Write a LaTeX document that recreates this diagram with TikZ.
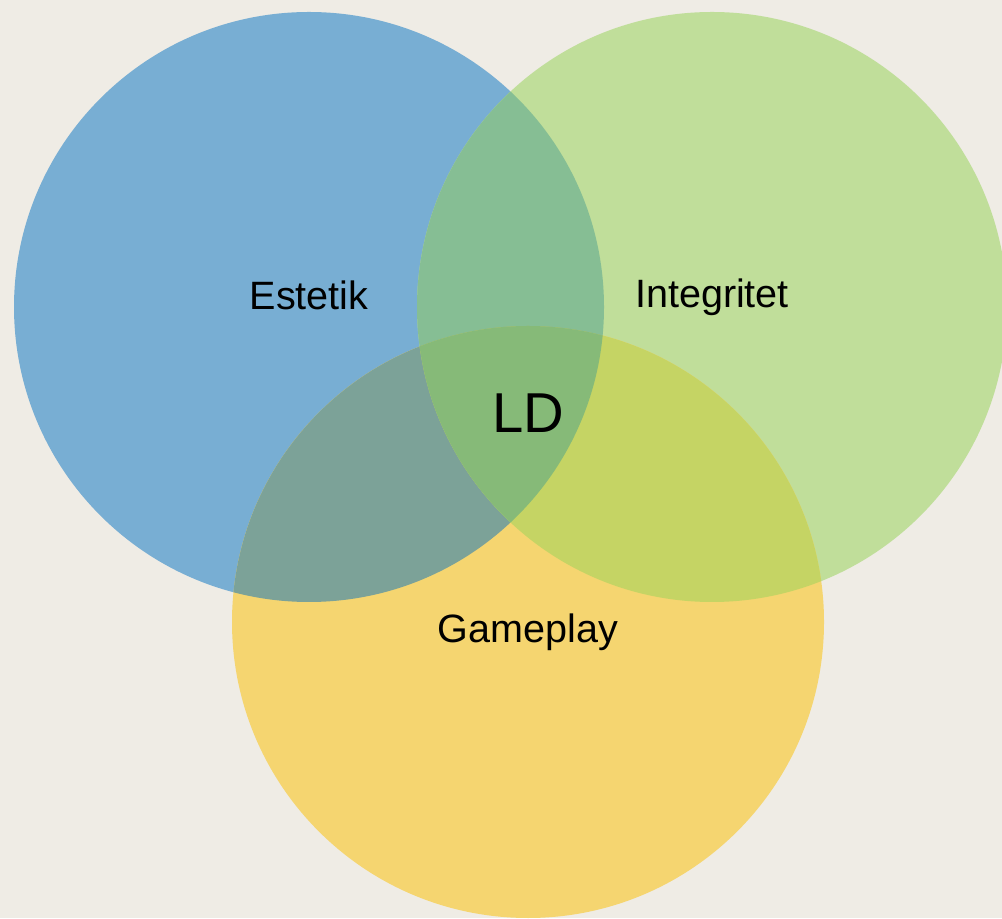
\documentclass[tikz,border=0pt]{standalone}
\usepackage{fontspec}
\setmainfont{Liberation Sans}
\definecolor{paper}{HTML}{EFECE5}
\definecolor{blueC}{HTML}{78AED3}
\definecolor{greenC}{HTML}{C0DE9A}
\definecolor{yellowC}{HTML}{F5D570}
\definecolor{blueGreen}{HTML}{86BE94}
\definecolor{blueYellow}{HTML}{7CA298}
\definecolor{greenYellow}{HTML}{C5D464}
\definecolor{allThree}{HTML}{86BA78}
\tikzstyle{lbl} = [text=black, font=\fontsize{22.5}{27}\selectfont]
\tikzstyle{core} = [text=black, font=\fontsize{32}{38}\selectfont]

\begin{document}
\begin{tikzpicture}

% Background
\fill [paper] (0,0) rectangle (20.04,18.36);
\useasboundingbox (0,0) rectangle (20.04,18.36);

% Centres
\coordinate (B) at (6.18,12.22);
\coordinate (G) at (14.24,12.22);
\coordinate (Y) at (10.56,5.92);

% Circles
\fill [blueC] (B) circle (5.9);
\fill [greenC] (G) circle (5.9);
\fill [yellowC] (Y) circle (5.92);

% Overlaps
\begin{scope}
\clip (B) circle (5.9);
\fill [blueGreen] (G) circle (5.9);
\fill [blueYellow] (Y) circle (5.92);
\end{scope}
\begin{scope}
\clip (G) circle (5.9);
\fill [greenYellow] (Y) circle (5.92);
\clip (B) circle (5.9);
\fill [allThree] (Y) circle (5.92);
\end{scope}

% Labels
\node (estetik) [lbl] at (6.18,12.46) {Estetik};
\node (integritet) [lbl] at (14.24,12.42) {Integritet};
\node (gameplay) [lbl] at (10.56,5.72) {Gameplay};
\node (ld) [core] at (10.56,10.1) {LD};

\end{tikzpicture}
\end{document}
